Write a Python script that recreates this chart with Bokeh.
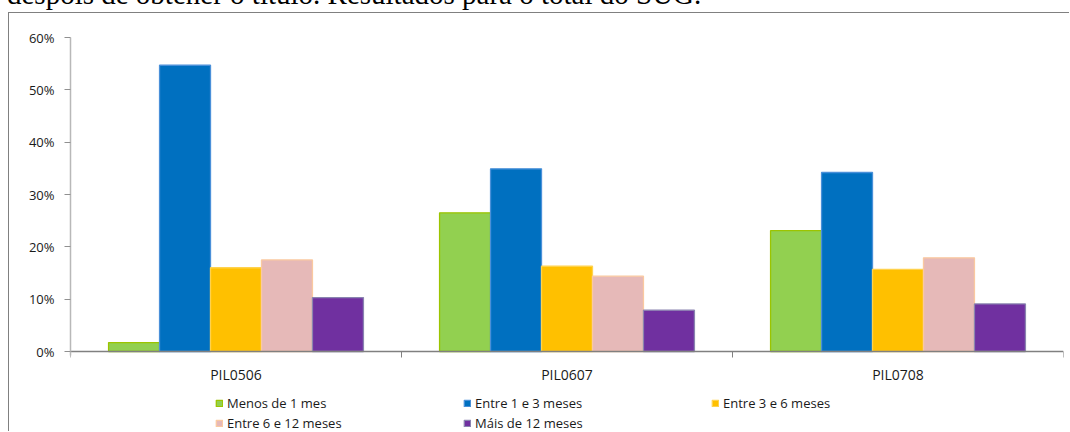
from bokeh.plotting import figure
from bokeh.models import (ColumnDataSource, Range1d, FixedTicker, NumeralTickFormatter,
                          Legend, LegendItem, Div)
from bokeh.transform import dodge
from bokeh.layouts import column
from bokeh.embed import file_html
from bokeh.resources import INLINE

# ---------------- data ----------------
caption = "despois de obtener o título. Resultados para o total do SUG."
categories = ["PIL0506", "PIL0607", "PIL0708"]
series_names = ["Menos de 1 mes", "Entre 1 e 3 meses", "Entre 3 e 6 meses",
                "Entre 6 e 12 meses", "Máis de 12 meses"]
menos_1_mes = [0.017, 0.265, 0.231]
entre_1_3 = [0.547, 0.349, 0.342]
entre_3_6 = [0.160, 0.163, 0.157]
entre_6_12 = [0.175, 0.144, 0.179]
mais_12 = [0.103, 0.079, 0.091]
y_ticks = [0.0, 0.1, 0.2, 0.3, 0.4, 0.5, 0.6]

fill_colors = ["#92D050", "#0070C0", "#FFC000", "#E6B9B8", "#7030A0"]
line_colors = ["#9BC400", "#4A90D9", "#FFD24D", "#FAC9A0", "#8A84B0"]

series = [menos_1_mes, entre_1_3, entre_3_6, entre_6_12, mais_12]
x_centers = [i + 0.5 for i in range(len(categories))]
data = {"x": x_centers}
for k, vals in enumerate(series):
    data[f"s{k}"] = vals
source = ColumnDataSource(data)

FONT = "Open Sans"

# frame spans from the 60% line down to the bottom of the canvas; the value axis
# is drawn at 0, leaving room under it for category labels and legend
y_top = y_ticks[-1]
y_bottom = -y_top * 81 / 314

p = figure(width=1061, height=419,
           x_range=Range1d(0, len(categories)), y_range=Range1d(y_bottom, y_top),
           output_backend="svg", toolbar_location=None,
           min_border_left=61, min_border_right=7, min_border_top=24, min_border_bottom=0)
p.margin = (0, 0, 0, 8)
p.styles = {"border-left": "1px solid #808080", "border-top": "1px solid #808080"}

w = 0.154
n = len(series)
renderers = []
for k in range(n):
    r = p.vbar(x=dodge("x", (k - (n - 1) / 2) * w), top=f"s{k}", width=w, source=source,
               fill_color=fill_colors[k], line_color=line_colors[k], line_width=1.3)
    renderers.append(r)

p.xgrid.visible = False
p.ygrid.visible = False
p.outline_line_color = None

xa = p.xaxis[0]
xa.fixed_location = 0
xa.ticker = FixedTicker(ticks=x_centers, minor_ticks=list(range(len(categories) + 1)))
xa.major_label_overrides = {x: c for x, c in zip(x_centers, categories)}
xa.major_tick_out = 0
xa.major_tick_in = 0
xa.minor_tick_out = 6
xa.minor_tick_in = 0
xa.minor_tick_line_color = "#808080"
xa.axis_line_color = "#808080"
xa.axis_line_width = 1.5
xa.major_label_standoff = 7
xa.major_label_text_font = FONT
xa.major_label_text_font_size = "14px"
xa.major_label_text_color = "#1a1a1a"

ya = p.yaxis[0]
ya.bounds = (-0.008, y_top)
ya.ticker = FixedTicker(ticks=y_ticks, minor_ticks=[])
ya.formatter = NumeralTickFormatter(format="0%")
ya.major_tick_out = 6
ya.major_tick_in = 0
ya.major_tick_line_color = "#909090"
ya.axis_line_color = "#b8b8b8"
ya.axis_line_width = 1.5
ya.major_label_standoff = 10
ya.major_label_text_font = FONT
ya.major_label_text_font_size = "13px"
ya.major_label_text_color = "#1a1a1a"

legend = Legend(items=[LegendItem(label=nm, renderers=[r]) for nm, r in zip(series_names, renderers)],
                location=(145, 0), orientation="horizontal", ncols=3,
                glyph_width=8, glyph_height=8, label_standoff=4, label_width=234,
                label_height=14, spacing=2, padding=0, margin=0,
                border_line_color=None, background_fill_alpha=0,
                label_text_font=FONT, label_text_font_size="13px",
                label_text_color="#1a1a1a")
p.add_layout(legend)

div = Div(text=(
    '<div style="position:relative;top:-20px;left:7px;font-family:\'Liberation Serif\';'
    'font-size:29px;line-height:29px;white-space:nowrap;color:#000;">' + caption + '</div>'),
    width=1062, height=12, margin=0, styles={"overflow": "visible"})

layout = column(div, p, spacing=0)

open("out.html", "w").write(file_html(layout, INLINE))
